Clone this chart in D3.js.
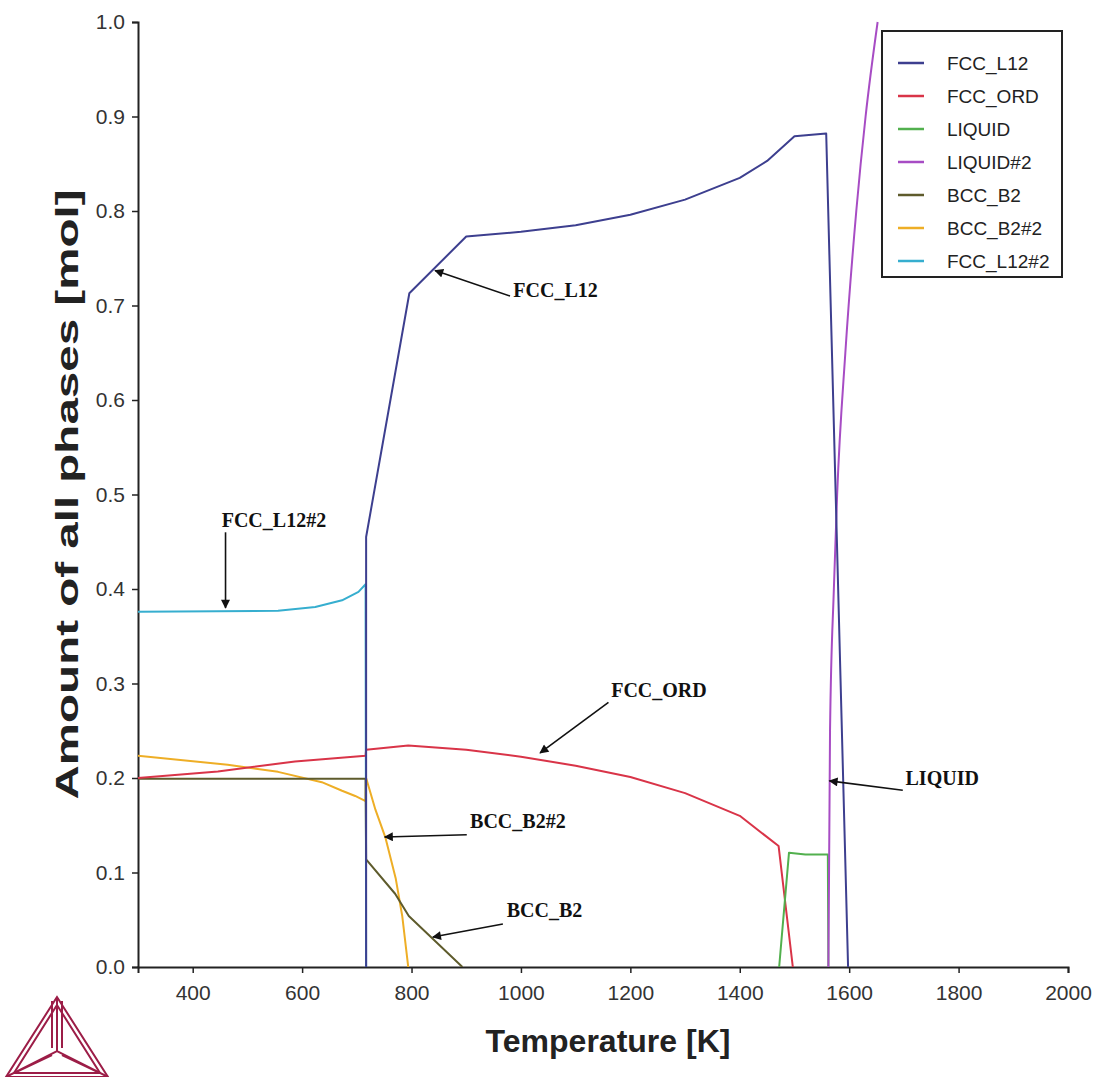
<!DOCTYPE html>
<html>
<head>
<meta charset="utf-8">
<script src="https://cdn.jsdelivr.net/npm/d3@7"></script>
<style>
  body { margin: 0; background: #fff; }
</style>
</head>
<body>
<div id="container"></div>
<script>
/* CONSTANTS AND GLOBALS */
const width = 1105,
  height = 1077,
  margin = { top: 22, bottom: 110, left: 138, right: 37 };
const sans = "'Liberation Sans', Arial, sans-serif",
  serif = "'Liberation Serif', 'Times New Roman', serif";

/* DATA (temperature K, amount mol) */
const fccL12 = [[717, 0], [717, 0.455], [796, 0.713], [900, 0.773], [1000, 0.778], [1100, 0.785],
  [1200, 0.796], [1300, 0.812], [1400, 0.835], [1450, 0.853], [1500, 0.879], [1558, 0.882], [1598, 0]];
const fccOrd = [[300, 0.200], [446, 0.207], [587, 0.2175], [716, 0.2236], [717, 0.230], [794, 0.2345],
  [900, 0.230], [1000, 0.2225], [1100, 0.213], [1200, 0.201], [1300, 0.184], [1400, 0.160], [1471, 0.128], [1497, 0]];
const liquid = [[1472, 0], [1490, 0.121], [1520, 0.119], [1561, 0.119], [1562, 0]];
const liquid2 = [[1562, 0], [1565, 0.25], [1572, 0.4], [1578, 0.5], [1593, 0.65], [1613, 0.8], [1630, 0.9], [1652, 1.0]];
const bccB2 = [[300, 0.1993], [716, 0.1993], [717, 0.114], [770, 0.0775], [795, 0.054], [893, 0]];
const bccB2_2 = [[300, 0.2236], [464, 0.214], [556, 0.2065], [636, 0.1956], [673, 0.1865], [697, 0.181],
  [716, 0.1756], [717, 0.200], [734, 0.1665], [752, 0.1375], [771, 0.094], [783, 0.054], [794, 0]];
const fccL12_2 = [[300, 0.376], [556, 0.377], [624, 0.381], [673, 0.388], [703, 0.397], [716, 0.405], [717, 0]];

const seriesNames = ["FCC_L12", "FCC_ORD", "LIQUID", "LIQUID#2", "BCC_B2", "BCC_B2#2", "FCC_L12#2"];
const seriesData = [fccL12, fccOrd, liquid, liquid2, bccB2, bccB2_2, fccL12_2];
const seriesColors = ["#3d3f8f", "#d93448", "#52b04e", "#a74cc4", "#5e5b2c", "#eeae26", "#36aecf"];
const drawOrder = [6, 5, 4, 1, 2, 3, 0];

const xTicks = [400, 600, 800, 1000, 1200, 1400, 1600, 1800, 2000];
const yTicks = [0, 0.1, 0.2, 0.3, 0.4, 0.5, 0.6, 0.7, 0.8, 0.9, 1.0];

// label text, text anchor [T, mol], arrow start [T, mol], arrow tip [T, mol]
const notes = [
  { label: "FCC_L12#2", at: [453, 0.466], from: [460, 0.460], to: [460, 0.380] },
  { label: "FCC_L12", at: [986, 0.709], from: [980, 0.710], to: [843, 0.737] },
  { label: "FCC_ORD", at: [1165, 0.286], from: [1160, 0.280], to: [1035, 0.2265] },
  { label: "LIQUID", at: [1703, 0.193], from: [1698, 0.187], to: [1564, 0.197] },
  { label: "BCC_B2#2", at: [907, 0.147], from: [901, 0.140], to: [751, 0.1376] },
  { label: "BCC_B2", at: [974, 0.053], from: [967, 0.0455], to: [839, 0.0317] }
];

/* SCALES */
const xScale = d3.scaleLinear()
  .domain([300, 2000])
  .range([margin.left, width - margin.right]);

const yScale = d3.scaleLinear()
  .domain([0, 1])
  .range([height - margin.bottom, margin.top]);

/* HTML ELEMENTS */
const svg = d3.select("#container")
  .append("svg")
  .attr("width", width)
  .attr("height", height)
  .style("background", "#fff");

svg.append("defs").append("marker")
  .attr("id", "arrow")
  .attr("viewBox", "0 0 10 10")
  .attr("refX", 9)
  .attr("refY", 5)
  .attr("markerWidth", 10)
  .attr("markerHeight", 9)
  .attr("markerUnits", "userSpaceOnUse")
  .attr("orient", "auto")
  .append("path")
  .attr("d", "M0,0 L10,5 L0,10 Z")
  .attr("fill", "#111");

svg.append("clipPath").attr("id", "plot")
  .append("rect")
  .attr("x", margin.left)
  .attr("y", margin.top - 1)
  .attr("width", width - margin.left - margin.right)
  .attr("height", height - margin.top - margin.bottom + 1);

/* AXES */
const xAxis = d3.axisBottom(xScale)
  .tickValues(xTicks)
  .tickSize(6)
  .tickPadding(12)
  .tickFormat(d3.format("d"));

svg.append("g")
  .attr("transform", `translate(0,${height - margin.bottom})`)
  .call(xAxis)
  .call(g => g.select(".domain").attr("stroke", "#222").attr("stroke-width", 2))
  .call(g => g.selectAll(".tick line").attr("stroke", "#222").attr("stroke-width", 1.5))
  .call(g => g.selectAll(".tick text").attr("font-size", 21).attr("fill", "#333")
    .style("font-family", sans));

const yAxis = d3.axisLeft(yScale)
  .tickValues(yTicks)
  .tickSize(6)
  .tickPadding(7)
  .tickFormat(d3.format(".1f"));

svg.append("g")
  .attr("transform", `translate(${margin.left},0)`)
  .call(yAxis)
  .call(g => g.select(".domain").attr("stroke", "#222").attr("stroke-width", 2))
  .call(g => g.selectAll(".tick line").attr("stroke", "#222").attr("stroke-width", 1.5))
  .call(g => g.selectAll(".tick text").attr("font-size", 21).attr("fill", "#333")
    .style("font-family", sans));

svg.append("text")
  .attr("x", 608)
  .attr("y", 1052)
  .attr("text-anchor", "middle")
  .attr("font-size", 32)
  .attr("font-weight", "bold")
  .attr("fill", "#222")
  .style("font-family", sans)
  .text("Temperature [K]");

svg.append("text")
  .attr("transform", `translate(78,${yScale(0.5)}) rotate(-90)`)
  .attr("text-anchor", "middle")
  .attr("font-size", 32)
  .attr("font-weight", "bold")
  .attr("fill", "#222")
  .attr("textLength", 610)
  .attr("lengthAdjust", "spacingAndGlyphs")
  .style("font-family", sans)
  .text("Amount of all phases [mol]");

/* LINES */
const line = d3.line()
  .x(d => xScale(d[0]))
  .y(d => yScale(d[1]));

// the liquid#2 curve is smooth, everything else is piecewise
const smoothLine = d3.line()
  .x(d => xScale(d[0]))
  .y(d => yScale(d[1]))
  .curve(d3.curveMonotoneX);

svg.append("g")
  .attr("clip-path", "url(#plot)")
  .selectAll("path")
  .data(drawOrder)
  .join("path")
  .attr("d", i => (i === 3 ? smoothLine : line)(seriesData[i]))
  .attr("fill", "none")
  .attr("stroke", i => seriesColors[i])
  .attr("stroke-width", 2)
  .attr("stroke-linejoin", "round");

/* ANNOTATIONS */
const noteG = svg.append("g");
noteG.selectAll("line")
  .data(notes)
  .join("line")
  .attr("x1", d => xScale(d.from[0]))
  .attr("y1", d => yScale(d.from[1]))
  .attr("x2", d => xScale(d.to[0]))
  .attr("y2", d => yScale(d.to[1]))
  .attr("stroke", "#111")
  .attr("stroke-width", 1.6)
  .attr("marker-end", "url(#arrow)");

noteG.selectAll("text")
  .data(notes)
  .join("text")
  .attr("x", d => xScale(d.at[0]))
  .attr("y", d => yScale(d.at[1]))
  .style("font-family", serif)
  .attr("font-weight", "bold")
  .attr("font-size", 20)
  .attr("fill", "#111")
  .text(d => d.label);

/* LEGEND */
const legend = svg.append("g");
legend.append("rect")
  .attr("x", 882)
  .attr("y", 31)
  .attr("width", 180)
  .attr("height", 246)
  .attr("fill", "#fff")
  .attr("stroke", "#222")
  .attr("stroke-width", 2);

const item = legend.selectAll("g.item")
  .data(seriesNames)
  .join("g")
  .attr("class", "item")
  .attr("transform", (d, i) => `translate(0,${63 + i * 33})`);

item.append("line")
  .attr("x1", 898)
  .attr("x2", 924)
  .attr("stroke", (d, i) => seriesColors[i])
  .attr("stroke-width", 2.5);

item.append("text")
  .attr("x", 947)
  .attr("y", 7)
  .attr("font-size", 19)
  .attr("fill", "#222")
  .style("font-family", sans)
  .text(d => d);

/* LOGO */
const logo = svg.append("g")
  .attr("fill", "none")
  .attr("stroke", "#9c1d47")
  .attr("stroke-width", 2);
[[57, 997, 6, 1077, 108, 1077], [57, 1005, 14, 1073, 100, 1073]].forEach(t => {
  logo.append("path").attr("d", `M${t[0]},${t[1]} L${t[2]},${t[3]} L${t[4]},${t[5]} Z`);
});
logo.append("path").attr("d", "M57,997 L57,1051 M6,1077 L57,1051 L108,1077 M52,1001 L52,1048 M62,1001 L62,1048 M14,1073 L52,1055 M100,1073 L62,1055");
</script>
</body>
</html>
